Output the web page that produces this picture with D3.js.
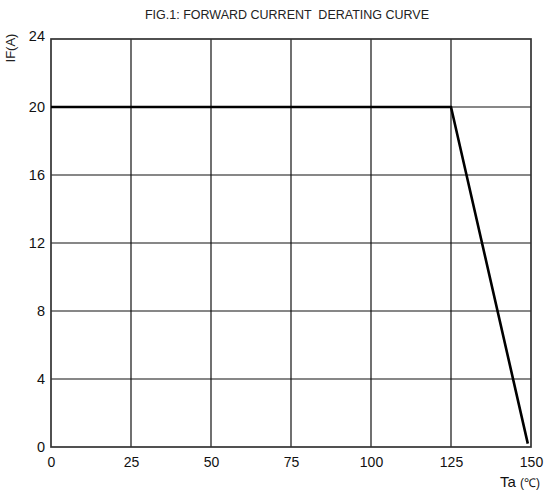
<!DOCTYPE html>
<html>
<head>
<meta charset="utf-8">
<script src="https://cdn.jsdelivr.net/npm/d3@7"></script>
<style>
  body { margin: 0; background: #fff; }
  svg text { font-family: "Liberation Sans", Arial, sans-serif; }
</style>
</head>
<body>
<div id="chart"></div>
<script>
// axis ticks
const tempTicks = [0, 25, 50, 75, 100, 125, 150];
const currentTicks = [0, 4, 8, 12, 16, 20, 24];
// derating curve points (Ta, IF)
const curveTemp = [0, 125, 149];
const curveCurrent = [20, 20, 0.2];

const width = 544, height = 493;
const margin = {top: 39, right: 13, bottom: 46, left: 51};

const svg = d3.select("#chart").append("svg")
  .attr("width", width)
  .attr("height", height);

const x = d3.scaleLinear().domain([0, 150]).range([margin.left, width - margin.right]);
const y = d3.scaleLinear().domain([0, 24]).range([height - margin.bottom, margin.top]);

// grid
svg.append("g").attr("class", "grid-x")
  .selectAll("line")
  .data(tempTicks.slice(1, -1))
  .join("line")
  .attr("x1", d => x(d)).attr("x2", d => x(d))
  .attr("y1", y(0)).attr("y2", y(24))
  .attr("stroke", "#111").attr("stroke-width", 1.2);

svg.append("g").attr("class", "grid-y")
  .selectAll("line")
  .data(currentTicks.slice(1, -1))
  .join("line")
  .attr("x1", x(0)).attr("x2", x(150))
  .attr("y1", d => y(d)).attr("y2", d => y(d))
  .attr("stroke", "#111").attr("stroke-width", 1.2);

// frame
svg.append("rect")
  .attr("x", x(0)).attr("y", y(24))
  .attr("width", x(150) - x(0)).attr("height", y(0) - y(24))
  .attr("fill", "none").attr("stroke", "#333").attr("stroke-width", 1.7);

// axes (labels only, lines drawn above)
const xAxis = svg.append("g")
  .attr("transform", `translate(0,${y(0)})`)
  .call(d3.axisBottom(x).tickValues(tempTicks).tickSize(0).tickPadding(10));
xAxis.select(".domain").remove();
xAxis.selectAll("text").attr("font-size", 14).attr("fill", "#111")
  .attr("font-family", "Liberation Sans, Arial, sans-serif");

const yAxis = svg.append("g")
  .attr("transform", `translate(${x(0)},0)`)
  .call(d3.axisLeft(y).tickValues(currentTicks).tickSize(0).tickPadding(6));
yAxis.select(".domain").remove();
yAxis.selectAll("text").attr("font-size", 14.5).attr("fill", "#111")
  .attr("font-family", "Liberation Sans, Arial, sans-serif");
// the 24 label sits a bit higher in the original
yAxis.selectAll(".tick").filter(d => d === 24).select("text").attr("dy", "0.1em");

// curve
const line = d3.line().x(d => x(d[0])).y(d => y(d[1]));
svg.append("path")
  .datum(d3.zip(curveTemp, curveCurrent))
  .attr("d", line)
  .attr("fill", "none")
  .attr("stroke", "#000")
  .attr("stroke-width", 2.6)
  .attr("stroke-linejoin", "miter");

// title
svg.append("text")
  .attr("x", 287).attr("y", 19)
  .attr("text-anchor", "middle")
  .attr("font-size", 12.5)
  .attr("fill", "#222")
  .attr("xml:space", "preserve")
  .text("FIG.1: FORWARD CURRENT  DERATING CURVE");

// y label
svg.append("text")
  .attr("transform", "translate(15,48) rotate(-90)")
  .attr("text-anchor", "middle")
  .attr("font-size", 13)
  .attr("fill", "#222")
  .text("IF(A)");

// x label
const xl = svg.append("text")
  .attr("x", 540).attr("y", 487)
  .attr("text-anchor", "end")
  .attr("fill", "#111");
xl.append("tspan").attr("font-size", 15).text("Ta ");
xl.append("tspan").attr("font-size", 12).text("(℃)");
</script>
</body>
</html>
